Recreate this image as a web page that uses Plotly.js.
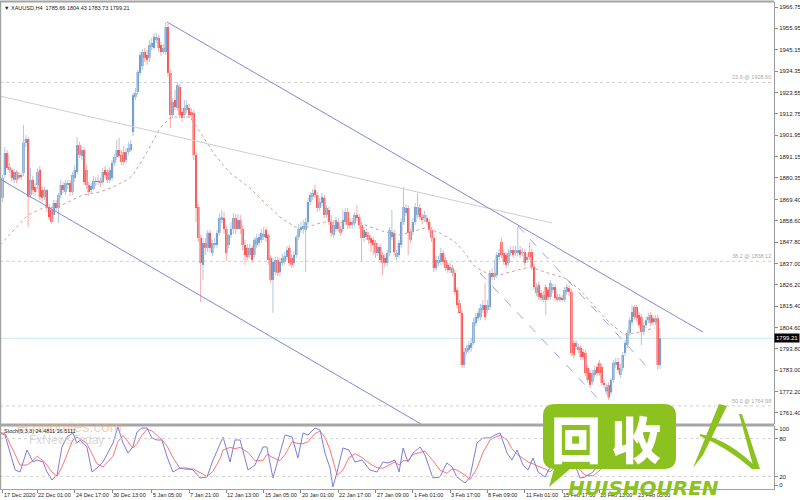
<!DOCTYPE html>
<html><head><meta charset="utf-8">
<script src="https://cdn.plot.ly/plotly-3.0.1.min.js"></script>
<style>html,body{margin:0;padding:0;background:#fff}#chart{width:800px;height:500px}</style>
</head><body><div id="chart"></div>
<script>
// ---------- DATA (XAUUSD H4, bar index on x) ----------
const openP = [
1870.2,1881.8,1892.9,1885.8,1884.3,1879.3,1883.3,1880.3,1881.8,1882.8,
1898.0,1900.0,1871.7,1879.3,1875.7,1876.7,1884.3,1874.2,1870.7,1874.2,
1865.6,1864.1,1861.6,1867.6,1865.1,1871.7,1876.7,1873.2,1876.7,1877.7,
1873.2,1880.3,1883.3,1896.9,1891.4,1894.4,1884.3,1876.7,1874.2,1874.7,
1878.8,1878.2,1878.8,1878.2,1884.3,1883.3,1879.3,1880.3,1887.9,1890.9,
1894.4,1891.9,1893.4,1889.4,1893.4,1894.4,1903.5,1921.2,1923.8,1933.4,
1936.9,1944.0,1942.5,1941.0,1946.5,1946.0,1950.1,1951.1,1947.5,1944.0,
1944.0,1956.6,1933.4,1912.1,1919.7,1915.7,1926.3,1913.7,1912.1,1914.7,
1915.7,1913.7,1913.1,1891.9,1865.6,1849.9,1836.3,1847.4,1844.9,1852.5,
1842.3,1846.4,1846.4,1852.5,1859.0,1860.0,1854.5,1846.4,1851.4,1854.5,
1860.0,1854.5,1859.0,1854.5,1846.4,1844.9,1841.3,1844.9,1841.3,1846.4,
1847.4,1848.9,1850.4,1854.0,1851.4,1839.8,1828.7,1832.7,1838.8,1832.7,
1837.3,1837.8,1840.3,1844.9,1839.8,1837.3,1841.3,1850.4,1854.0,1854.5,
1854.0,1858.0,1868.1,1870.7,1874.2,1871.7,1865.1,1867.6,1870.2,1861.6,
1864.1,1858.0,1851.4,1854.5,1858.0,1854.5,1854.5,1858.0,1863.1,1858.0,
1856.5,1857.5,1861.6,1860.5,1856.5,1849.9,1853.0,1851.4,1849.9,1848.9,
1847.4,1842.3,1845.4,1841.3,1839.8,1837.3,1842.3,1850.4,1852.5,1840.3,
1841.3,1846.4,1858.0,1862.6,1865.1,1853.0,1853.0,1858.0,1861.6,1865.1,
1860.5,1860.0,1860.0,1858.0,1854.0,1849.9,1834.7,1837.3,1837.8,1842.3,
1838.8,1836.3,1833.7,1834.7,1832.2,1823.6,1817.0,1812.0,1785.7,1792.3,
1793.3,1794.3,1796.8,1806.8,1809.3,1810.0,1813.5,1816.0,1813.5,1815.0,
1832.2,1830.2,1831.2,1840.3,1847.9,1842.3,1841.3,1837.3,1842.3,1843.8,
1842.3,1842.3,1843.8,1842.3,1842.8,1838.8,1842.8,1842.8,1835.3,1822.1,
1826.2,1822.1,1818.6,1825.1,1823.6,1820.1,1823.6,1825.1,1820.1,1818.6,
1819.6,1818.6,1822.6,1824.6,1822.6,1796.8,1794.8,1794.8,1794.3,1792.3,
1791.8,1784.2,1781.6,1777.1,1780.6,1784.7,1786.7,1784.7,1776.6,1772.3,
1775.6,1771.8,1778.1,1785.7,1787.2,1780.6,1784.2,1791.8,1795.8,1801.9,
1807.3,1815.0,1815.0,1811.0,1810.0,1802.4,1805.8,1808.3,1811.0,1809.3,
1807.3,1809.3,1785.66];
const highP = [
1881.8,1895.9,1894.4,1887.9,1885.3,1884.8,1884.3,1883.3,1882.8,1907.1,
1902.0,1901.0,1885.3,1881.3,1877.7,1885.3,1886.3,1876.2,1875.7,1874.7,
1867.1,1865.6,1869.1,1869.1,1872.7,1879.3,1878.2,1879.3,1879.3,1879.3,
1883.3,1886.8,1901.0,1898.5,1896.4,1895.9,1886.8,1878.2,1877.7,1881.3,
1880.8,1881.8,1880.3,1885.3,1886.3,1884.8,1885.8,1889.4,1892.4,1899.5,
1900.5,1894.4,1896.4,1895.4,1898.5,1899.5,1923.3,1925.8,1934.9,1944.0,
1945.5,1946.0,1945.0,1950.1,1951.1,1953.6,1953.6,1952.6,1949.1,1948.0,
1959.2,1958.2,1934.9,1920.7,1924.8,1928.8,1927.8,1915.7,1919.7,1919.7,
1917.7,1915.7,1914.7,1893.4,1867.1,1851.4,1849.9,1849.9,1854.0,1854.0,
1848.9,1849.9,1854.0,1862.6,1864.1,1863.1,1856.0,1852.0,1858.0,1862.6,
1862.1,1862.1,1861.6,1856.0,1848.9,1846.9,1846.9,1846.4,1850.4,1852.0,
1852.0,1854.5,1855.5,1855.5,1852.0,1841.3,1839.8,1840.3,1840.3,1839.8,
1841.8,1842.8,1845.9,1846.4,1841.8,1843.3,1851.4,1857.0,1858.0,1859.0,
1860.0,1870.2,1873.2,1874.7,1876.7,1873.2,1870.2,1872.7,1871.7,1866.6,
1865.6,1861.6,1859.0,1860.5,1860.0,1856.0,1864.1,1865.1,1865.1,1860.0,
1860.0,1863.1,1866.6,1862.1,1858.0,1855.5,1854.5,1853.0,1851.4,1850.4,
1848.9,1847.4,1846.9,1842.8,1841.8,1843.8,1855.5,1864.1,1854.0,1843.8,
1848.9,1860.0,1875.7,1867.1,1866.6,1854.5,1860.0,1867.6,1872.7,1867.1,
1862.1,1863.6,1861.6,1859.5,1855.5,1851.4,1840.8,1840.8,1844.9,1843.8,
1840.3,1837.8,1837.3,1836.3,1833.7,1825.1,1818.6,1813.5,1794.3,1795.8,
1797.8,1799.3,1809.3,1812.0,1814.0,1816.5,1818.6,1827.2,1818.6,1833.7,
1834.7,1838.8,1842.8,1844.4,1849.9,1843.8,1842.8,1844.4,1845.9,1845.9,
1845.9,1855.5,1845.9,1844.9,1844.4,1842.3,1847.4,1844.4,1836.8,1827.2,
1827.7,1823.6,1823.1,1826.7,1825.1,1828.7,1826.7,1826.7,1821.6,1821.6,
1821.1,1825.1,1826.7,1826.1,1824.1,1798.3,1798.3,1796.3,1795.8,1793.8,
1793.3,1785.7,1783.2,1783.2,1785.2,1786.2,1788.2,1786.2,1778.1,1776.1,
1777.1,1779.1,1788.2,1789.2,1789.2,1786.2,1792.3,1798.3,1803.4,1810.0,
1816.0,1816.0,1816.0,1812.5,1811.5,1807.3,1810.0,1812.0,1812.5,1811.0,
1811.0,1811.0,1804.43];
const lowP = [
1868.1,1880.3,1884.3,1882.8,1878.2,1877.7,1877.7,1879.3,1879.3,1881.3,
1895.9,1855.5,1870.2,1872.2,1871.2,1874.7,1869.1,1868.1,1869.1,1863.1,
1859.0,1857.0,1859.5,1863.6,1857.5,1870.2,1872.7,1871.7,1874.7,1871.2,
1871.7,1878.2,1882.3,1890.4,1889.4,1876.7,1874.7,1871.2,1872.7,1874.2,
1876.2,1876.7,1875.7,1876.7,1879.8,1877.7,1877.7,1878.8,1886.3,1889.4,
1890.4,1886.8,1886.8,1887.9,1891.9,1893.4,1901.5,1919.7,1922.2,1931.9,
1934.9,1938.9,1937.4,1938.9,1945.0,1945.0,1948.6,1944.0,1942.0,1943.0,
1942.5,1931.4,1905.6,1910.6,1914.7,1914.2,1910.6,1908.6,1910.6,1913.1,
1910.6,1909.6,1889.4,1858.0,1847.9,1817.5,1828.7,1841.3,1842.8,1842.8,
1840.8,1844.9,1844.9,1851.0,1857.5,1852.0,1838.3,1844.9,1849.9,1852.0,
1852.0,1854.0,1852.0,1843.8,1836.3,1838.8,1839.8,1837.3,1839.8,1844.9,
1845.9,1847.4,1848.9,1847.9,1836.3,1827.2,1812.0,1831.2,1830.7,1830.7,
1835.8,1836.3,1838.8,1835.8,1834.7,1835.3,1839.8,1848.9,1852.5,1852.0,
1832.7,1856.5,1866.6,1869.1,1870.2,1863.1,1863.6,1866.1,1860.0,1860.0,
1856.5,1850.4,1849.9,1853.0,1853.0,1851.0,1853.0,1856.5,1854.5,1854.5,
1854.5,1855.5,1858.5,1854.5,1838.3,1847.9,1848.9,1846.9,1842.8,1841.3,
1839.8,1840.8,1837.3,1831.2,1835.3,1835.8,1840.8,1848.9,1841.3,1838.8,
1839.8,1844.9,1856.5,1861.1,1841.3,1847.4,1851.4,1856.5,1860.0,1859.0,
1857.0,1858.0,1856.5,1852.5,1847.9,1832.7,1833.2,1835.8,1836.3,1836.3,
1833.2,1832.2,1832.2,1830.7,1821.1,1814.5,1812.5,1784.2,1784.2,1790.7,
1791.8,1792.3,1795.8,1805.3,1807.8,1808.3,1812.0,1808.3,1812.0,1813.5,
1828.7,1828.7,1829.7,1838.8,1839.8,1836.3,1834.7,1835.8,1840.8,1839.8,
1840.8,1840.8,1839.8,1840.8,1835.8,1837.3,1838.8,1833.7,1823.6,1820.6,
1818.6,1818.1,1817.5,1811.0,1818.6,1818.6,1822.1,1818.1,1817.5,1817.5,
1817.5,1817.5,1821.1,1820.6,1790.2,1789.2,1793.3,1791.8,1788.2,1788.2,
1780.1,1776.6,1774.0,1775.6,1779.1,1780.1,1780.1,1775.1,1774.0,1770.8,
1768.0,1770.3,1776.6,1784.2,1781.6,1779.1,1782.7,1790.2,1794.3,1800.4,
1805.8,1808.3,1807.3,1804.3,1795.8,1800.9,1804.3,1806.8,1805.3,1805.8,
1805.8,1783.2,1783.73];
const closeP = [
1880.3,1892.9,1885.3,1884.3,1880.3,1883.3,1879.3,1881.8,1880.8,1898.0,
1900.0,1870.7,1879.3,1874.2,1873.2,1883.3,1870.7,1870.2,1874.2,1865.1,
1860.5,1858.0,1867.6,1865.1,1871.7,1876.7,1874.2,1877.7,1877.7,1873.2,
1881.8,1884.3,1896.9,1891.9,1894.4,1878.2,1876.7,1873.2,1876.2,1878.8,
1878.2,1878.8,1877.7,1883.3,1881.8,1879.3,1884.3,1887.9,1890.9,1894.4,
1891.4,1888.4,1888.4,1893.4,1895.4,1897.5,1922.2,1923.3,1933.9,1942.5,
1944.0,1941.0,1939.9,1947.5,1948.6,1951.6,1951.6,1946.0,1944.0,1946.0,
1956.6,1933.4,1912.1,1918.7,1916.2,1927.3,1912.1,1910.6,1915.7,1917.2,
1912.1,1912.1,1891.9,1865.1,1849.9,1837.3,1847.4,1844.9,1852.5,1844.9,
1847.4,1847.4,1852.5,1860.0,1860.5,1854.5,1842.3,1851.4,1854.5,1860.0,
1854.5,1859.0,1854.5,1846.4,1841.3,1840.3,1844.9,1838.8,1848.9,1849.9,
1850.4,1852.5,1852.0,1849.9,1838.8,1828.7,1837.8,1838.8,1832.2,1837.8,
1839.8,1840.8,1843.8,1837.3,1836.3,1841.3,1850.4,1854.5,1855.5,1856.0,
1858.0,1868.1,1871.7,1872.7,1871.7,1865.1,1868.1,1870.7,1861.6,1865.1,
1858.0,1852.5,1856.5,1859.0,1854.5,1852.5,1859.0,1863.1,1856.5,1856.5,
1858.0,1861.6,1860.0,1856.5,1849.9,1854.0,1850.4,1848.9,1847.4,1846.4,
1842.3,1845.4,1838.8,1837.3,1837.3,1842.3,1854.0,1853.0,1842.8,1842.3,
1847.4,1858.0,1865.6,1865.1,1852.5,1848.9,1858.0,1865.6,1865.6,1860.5,
1859.0,1861.6,1858.0,1854.0,1849.9,1834.7,1838.8,1838.8,1842.3,1837.8,
1834.7,1833.7,1835.3,1832.2,1822.6,1816.0,1812.0,1785.7,1792.3,1794.3,
1795.8,1796.8,1807.3,1810.0,1812.0,1814.5,1816.0,1810.0,1816.0,1832.2,
1830.2,1832.2,1841.3,1842.3,1841.3,1837.8,1836.3,1842.3,1843.8,1841.3,
1843.8,1843.8,1841.3,1842.8,1837.3,1840.3,1840.3,1835.3,1825.1,1825.1,
1820.1,1819.6,1821.1,1818.6,1820.1,1827.2,1825.1,1819.6,1818.6,1820.1,
1818.6,1823.6,1825.1,1822.6,1791.7,1790.7,1796.8,1793.3,1789.7,1789.7,
1781.6,1778.1,1775.6,1781.6,1783.2,1781.6,1781.6,1776.6,1775.6,1774.6,
1769.3,1778.1,1786.7,1787.2,1783.2,1784.2,1790.7,1796.8,1801.9,1808.3,
1812.5,1810.0,1809.3,1805.8,1802.4,1805.8,1808.3,1810.0,1806.8,1807.3,
1809.3,1785.7,1799.21];

// moving average (read at sample bars)
const maX = [-1.07,10.9,17.4,23.8,34.5,41.8,47.4,53.4,56.0,62.0,67.6,71.8,74.0,80.4,84.7,91.1,97.6,106.1,112.6,119.0,125.4,129.7,136.2,140.5,146.9,153.3,157.6,164.1,170.5,174.8,181.2,187.6,194.1,198.4,202.7,209.1,213.4,217.7,226.2,232.7,241.2,247.7,254.1,260.5,266.9,273.4,279.8];
const maY = [1846.4,1861.6,1865.1,1865.6,1871.7,1873.2,1875.7,1879.3,1881.8,1893.4,1905.6,1910.6,1911.1,1911.1,1903.5,1891.9,1882.8,1875.2,1867.6,1860.5,1855.5,1855.0,1857.5,1858.5,1857.5,1857.5,1855.5,1853.0,1851.4,1853.0,1855.0,1852.5,1847.9,1842.3,1835.3,1831.2,1831.2,1832.7,1835.3,1832.7,1829.7,1823.6,1815.0,1806.8,1800.9,1802.4,1804.4];

// Stochastic(5,3,3)
const stX = [-1.07,1.07,5.4,7.5,10.5,13.1,14.8,17.4,19.1,21.2,23.4,25.5,27.7,30.2,31.9,33.2,36.2,38.4,40.5,43.1,47.4,49.5,51.7,53.8,55.9,57.7,59.8,62.0,64.1,66.3,68.4,70.6,73.1,76.1,79.1,81.7,84.7,87.7,90.3,93.3,94.6,97.6,99.7,101.9,105.3,108.3,111.7,113.4,116.0,119.0,121.2,124.2,126.7,128.9,131.0,134.0,136.2,138.3,140.5,141.7,143.5,146.0,148.6,151.2,154.2,157.6,160.6,163.2,165.3,168.3,170.1,171.8,173.9,176.1,179.1,181.2,184.6,187.6,190.6,192.8,194.9,198.4,200.5,203.5,206.1,209.1,211.2,213.4,216.4,218.5,220.7,223.2,225.4,227.5,229.7,232.7,234.8,237.4,240.0,242.5,244.3,246.4,247.7,249.8,253.3,256.3,259.3,261.8,264.8,267.8,270.4,273.4,276.4,279.0,282.0];
const stMain = [88.9,85.7,30.2,27.0,61.9,42.9,46.0,42.9,27.0,14.3,22.2,66.7,82.5,88.9,73.0,77.8,66.7,27.0,33.3,42.9,73.0,98.4,73.0,57.1,66.7,90.5,96.8,96.8,81.0,77.8,77.8,50.8,27.0,33.3,33.3,30.2,17.5,19.0,46.0,73.0,82.5,42.9,77.8,77.8,30.2,38.1,66.7,66.7,17.5,57.1,85.7,82.5,49.2,88.9,85.7,96.8,93.7,57.1,33.3,3.2,27.0,65.1,61.9,42.9,46.0,30.2,27.0,42.9,41.3,46.0,27.0,65.1,42.9,57.1,66.7,54.0,17.5,19.0,41.3,34.9,19.0,9.5,19.0,73.0,81.0,81.0,85.7,88.9,57.1,46.0,61.9,38.1,30.2,49.2,27.0,19.0,34.9,54.0,62.0,54.0,43.0,30.2,17.5,19.0,27.0,46.0,54.0,70.0,83.0,89.0,86.0,70.0,65.0,68.0,46.0];
const stSignal = [90,88,55,38,38,45,52,45,38,27,20,35,55,78,82,80,72,55,40,35,52,75,85,75,65,72,85,95,92,85,78,68,50,33,31,32,26,20,28,48,62,66,64,66,58,45,45,55,50,45,55,75,72,72,75,88,92,82,62,45,22,30,50,56,50,40,34,33,37,43,38,45,45,55,58,60,45,30,25,32,30,22,15,33,58,78,82,85,78,64,55,48,43,40,36,32,27,36,50,56,52,42,30,22,21,30,42,56,69,80,86,82,74,68,60];

// axis labels
const priceTicks = [1966.75,1955.95,1945.15,1934.35,1923.55,1912.75,1901.95,1891.15,1880.35,1869.40,1858.60,1847.80,1837.00,1826.20,1815.40,1804.60,1793.80,1783.00,1772.20,1761.40];
const dateTickBars = [0,15,31,47,64,80,96,112,128,144,160,176,192,208,224,240,256,272];
const dateTickText = ['17 Dec 2020','22 Dec 01:00','24 Dec 17:00','30 Dec 13:00','5 Jan 05:00','7 Jan 21:00','12 Jan 13:00','15 Jan 05:00','20 Jan 01:00','22 Jan 17:00','27 Jan 09:00','1 Feb 01:00','3 Feb 17:00','8 Feb 09:00','11 Feb 01:00','15 Feb 17:00','18 Feb 13:00','23 Feb 05:00'];
const fibLevels = [['23.6',1928.60],['38.2',1838.12],['50.0',1764.98]];
const lastPrice = 1799.21;
// trend lines [x0,y0,x1,y1] in (bar, price)
const channelUpper = [70.55,1959.16,300.4,1802.36];
const channelLower = [-1.07,1879.75,179.5,1755.83];
const greyTrend = [-1.07,1921.7,235.7,1857.5];
const dashA = [221.1,1856.0,277.7,1783.1];
const dashB = [204.8,1832.2,258.0,1765.4];

// ---------- BUILD ----------
const idx = openP.map((_, i) => i);
const upCol = '#3d78b8', dnCol = '#ff0d0d';
const W = 774, T = 2, B = 489;
const px = x => x / W, py = y => (B - y) / (B - T);
const FONT = 'Liberation Sans, Arial, sans-serif';
const FS = 5.5;

const traces = [
  { type: 'ohlc', x: idx, open: openP, high: highP, low: lowP, close: closeP,
    tickwidth: 0, increasing: { line: { color: '#aec8e4', width: 1 } },
    decreasing: { line: { color: '#f7aaaa', width: 1 } }, hoverinfo: 'skip', xaxis: 'x', yaxis: 'y' },
  { type: 'bar', x: idx, base: openP, y: closeP.map((c, i) => c - openP[i]), width: 0.9,
    marker: { color: closeP.map((c, i) => c >= openP[i] ? upCol : dnCol), line: { width: 0 } },
    hoverinfo: 'skip', xaxis: 'x', yaxis: 'y' },
  { type: 'scatter', mode: 'lines', x: maX, y: maY, line: { color: '#cf9f9f', width: 1, dash: 'dot' },
    hoverinfo: 'skip', xaxis: 'x', yaxis: 'y' },
  { type: 'scatter', mode: 'lines', x: stX, y: stSignal, line: { color: '#ff7474', width: 1 },
    hoverinfo: 'skip', xaxis: 'x', yaxis: 'y2' },
  { type: 'scatter', mode: 'lines', x: stX, y: stMain, line: { color: '#7c7cdc', width: 1 },
    hoverinfo: 'skip', xaxis: 'x', yaxis: 'y2' }
];

const seg = (a, color, dash, width) => ({ type: 'line', xref: 'x', yref: 'y', x0: a[0], y0: a[1], x1: a[2], y1: a[3],
  line: { color: color, width: width || 1, dash: dash || 'solid' } });

const shapes = [
  ...fibLevels.map(f => ({ type: 'line', xref: 'paper', yref: 'y', x0: 0, x1: 1, y0: f[1], y1: f[1], layer: 'below',
    line: { color: '#cfcfcf', width: 1, dash: 'dot' } })),
  { type: 'line', xref: 'paper', yref: 'y', x0: 0, x1: 1, y0: lastPrice, y1: lastPrice, layer: 'below',
    line: { color: '#c4e8f2', width: 1 } },
  { type: 'line', xref: 'paper', yref: 'y2', x0: 0, x1: 1, y0: 80, y1: 80, line: { color: '#d2d2d2', width: 1, dash: 'dot' } },
  { type: 'line', xref: 'paper', yref: 'y2', x0: 0, x1: 1, y0: 20, y1: 20, line: { color: '#d2d2d2', width: 1, dash: 'dot' } },
  seg(greyTrend, '#d3cccc', 'solid', 1),
  seg(channelUpper, '#8585d6', 'solid', 1),
  seg(channelLower, '#8585d6', 'solid', 1),
  seg(dashA, '#a3a3e0', 'dash', 1),
  seg(dashB, '#a3a3e0', 'dash', 1),
  { type: 'line', xref: 'paper', yref: 'paper', x0: 0, x1: 1, y0: py(1.5), y1: py(1.5), line: { color: '#a3a3a3', width: 2 } },
  { type: 'line', xref: 'paper', yref: 'paper', x0: px(0.5), x1: px(0.5), y0: py(1), y1: py(489), line: { color: '#a3a3a3', width: 1.5 } },
  { type: 'line', xref: 'paper', yref: 'paper', x0: 0, x1: 1, y0: py(425), y1: py(425), line: { color: '#a6a6a6', width: 3 } }
];

// watermark logo (decoration)
const G = '#8cc21f';
const P = pts => pts.map(p => (typeof p === 'string') ? p : (px(p[0]).toFixed(5) + ',' + py(p[1]).toFixed(5))).join(' ');
shapes.push({ type: 'path', xref: 'paper', yref: 'paper', layer: 'above', fillcolor: G, line: { width: 0 },
  path: P(['M', [555, 404], 'L', [664, 404], 'Q', [676, 404], [676, 416], 'L', [676, 457], 'Q', [676, 469], [664, 469],
    'L', [570, 469], 'L', [549, 487], 'L', [554, 469], 'Q', [543, 468], [543, 457], 'L', [543, 416], 'Q', [543, 404], [555, 404], 'Z']) });
shapes.push({ type: 'path', xref: 'paper', yref: 'paper', layer: 'above', fillcolor: G, line: { width: 0 },
  path: P(['M', [693, 468], 'L', [719, 404], 'L', [727, 406], 'L', [703, 455], 'Z']) });
shapes.push({ type: 'path', xref: 'paper', yref: 'paper', layer: 'above', fillcolor: G, line: { width: 0 },
  path: P(['M', [700, 434], 'Q', [730, 440], [758, 469], 'L', [752, 469], 'Q', [728, 448], [700, 436], 'Z']) });
shapes.push({ type: 'path', xref: 'paper', yref: 'paper', layer: 'above', fillcolor: G, line: { width: 0 },
  path: P(['M', [739, 414], 'L', [742, 414], 'L', [760, 469], 'L', [754, 469], 'Z']) });

const ann = (x, y, text, opts) => Object.assign({ xref: 'paper', yref: 'paper', x: x, y: y, text: text, showarrow: false,
  xanchor: 'left', yanchor: 'middle', font: { family: FONT, size: FS, color: '#222' } }, opts || {});

const annotations = [
  ann(px(2), py(8), '▼ XAUUSD,H4  1785.66 1804.43 1783.73 1799.21'),
  ...fibLevels.map(f => ({ xref: 'paper', yref: 'y', x: px(773), y: f[1], xanchor: 'right', yanchor: 'bottom',
    text: f[0] + ' @ ' + f[1].toFixed(2), showarrow: false, font: { family: FONT, size: FS, color: '#aaaaaa' } })),
  { xref: 'paper', yref: 'y', x: 1, y: lastPrice, xanchor: 'left', yanchor: 'middle', text: lastPrice.toFixed(2),
    showarrow: false, bgcolor: '#000', borderpad: 1, font: { family: FONT, size: 6, color: '#fff' } },
  ann(px(15), py(426), 'economies.com', { font: { family: FONT, size: 15, color: 'rgba(243,170,110,0.55)' } }),
  ann(px(27), py(440), 'FxNewsToday', { font: { family: FONT, size: 12, color: 'rgba(190,190,190,0.6)' } }),
  ann(px(2), py(431), 'Stoch(5,3,3) 24.4811 16.5111'),
  // date labels along the time axis
  ...dateTickBars.map((b, k) => ({ xref: 'x', yref: 'paper', x: b, y: py(494.5), xanchor: 'left', yanchor: 'middle',
    xshift: -1, text: dateTickText[k], showarrow: false, font: { family: FONT, size: FS, color: '#222' } })),
  // logo texts
  ann(px(576), py(437), '回', { xanchor: 'center', font: { family: 'Noto Sans CJK SC', size: 50, color: '#fff', weight: 900 } }),
  ann(px(636), py(437), '收', { xanchor: 'center', font: { family: 'Noto Sans CJK SC', size: 50, color: '#fff', weight: 900 } }),
  ann(px(566), py(488), '<i><b>HUISHOUREN</b></i>', { font: { family: 'DejaVu Sans', size: 20, color: G } })
];

const layout = {
  width: 800, height: 500, margin: { l: 0, r: 26, t: T, b: 500 - B }, paper_bgcolor: '#fff', plot_bgcolor: '#fff',
  showlegend: false, barmode: 'overlay', dragmode: false,
  xaxis: { domain: [0, 1], range: [-1.072, 330.89], anchor: 'y2', tickvals: dateTickBars, showticklabels: false,
    ticks: 'outside', ticklen: 3, tickcolor: '#888', showgrid: false, zeroline: false,
    showline: true, linecolor: '#a3a3a3', rangeslider: { visible: false } },
  yaxis: { domain: [(B - 424) / (B - T), 1], range: [1755.83, 1969.28], side: 'right', anchor: 'x', tickvals: priceTicks,
    ticktext: priceTicks.map(v => v.toFixed(2)), ticks: 'outside', ticklen: 3, tickcolor: '#888', showgrid: false,
    zeroline: false, showline: true, linecolor: '#999', tickfont: { family: FONT, size: 6, color: '#222' } },
  yaxis2: { domain: [0, (B - 426) / (B - T)], range: [0, 100], side: 'right', anchor: 'x', tickvals: [95, 80, 20, 6],
    ticktext: ['100', '80', '20', '0'], ticks: 'outside', ticklen: 3, tickcolor: '#888', showgrid: false, zeroline: false,
    showline: true, linecolor: '#999', tickfont: { family: FONT, size: 6, color: '#222' } },
  shapes: shapes, annotations: annotations
};

Plotly.newPlot('chart', traces, layout, { displayModeBar: false, staticPlot: true });
</script></body></html>
